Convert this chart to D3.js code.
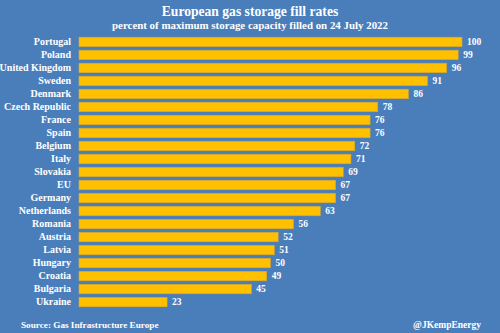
<!DOCTYPE html>
<html><head><meta charset="utf-8">
<script src="https://cdn.jsdelivr.net/npm/d3@7"></script>
<style>html,body{margin:0;padding:0;background:#4a7ebb;}svg{display:block;}</style>
</head><body>
<script>
const categories = ["Portugal","Poland","United Kingdom","Sweden","Denmark","Czech Republic","France","Spain","Belgium","Italy","Slovakia","EU","Germany","Netherlands","Romania","Austria","Latvia","Hungary","Croatia","Bulgaria","Ukraine"];
const values = [100,99,96,91,86,78,76,76,72,71,69,67,67,63,56,52,51,50,49,45,23];
const title = "European gas storage fill rates";
const subtitle = "percent of maximum storage capacity filled on 24 July 2022";
const source = "Source: Gas Infrastructure Europe";
const credit = "@JKempEnergy";

const W = 500, H = 333;
const font = "'Liberation Serif', 'Times New Roman', serif";
const svg = d3.select("body").append("svg").attr("width", W).attr("height", H);
svg.append("rect").attr("width", W).attr("height", H).attr("fill", "#4a7ebb");

const x = d3.scaleLinear().domain([0, 100]).range([79, 462]);
const y = d3.scaleBand().domain(categories).range([35.5, 308.5]).paddingInner(0.27).paddingOuter(0.13);

svg.append("text").attr("x", 250).attr("y", 16).attr("text-anchor", "middle")
  .attr("font-family", font).attr("font-weight", "bold").attr("font-size", 13.6).attr("fill", "#fff").text(title);
svg.append("text").attr("x", 250).attr("y", 28.5).attr("text-anchor", "middle")
  .attr("font-family", font).attr("font-weight", "bold").attr("font-size", 10.9).attr("fill", "#fff").text(subtitle);

svg.append("g").selectAll("rect").data(values).join("rect")
  .attr("x", x(0)).attr("y", (d, i) => y(categories[i]))
  .attr("width", d => x(d) - x(0)).attr("height", y.bandwidth())
  .attr("fill", "#ffc000").attr("stroke", "#d9a62a").attr("stroke-width", 0.6);

const yAxis = svg.append("g").attr("transform", `translate(${x(0)},0)`)
  .call(d3.axisLeft(y).tickSize(0).tickPadding(8));
yAxis.select(".domain").remove();
yAxis.selectAll("text").attr("font-family", font).attr("font-weight", "bold").attr("font-size", 10).attr("fill", "#fff");

svg.append("g").selectAll("text").data(values).join("text")
  .attr("x", d => x(d) + 5).attr("y", (d, i) => y(categories[i]) + y.bandwidth() / 2)
  .attr("dy", "0.35em").attr("font-family", font).attr("font-weight", "bold").attr("font-size", 9.5)
  .attr("fill", "#fff").text(d => d);

svg.append("text").attr("x", 21).attr("y", 328).attr("font-family", font).attr("font-weight", "bold")
  .attr("font-size", 9.2).attr("fill", "#fff").text(source);
svg.append("text").attr("x", 481).attr("y", 328).attr("text-anchor", "end").attr("font-family", font).attr("font-weight", "bold")
  .attr("font-size", 9.5).attr("fill", "#fff").text(credit);
</script>
</body></html>
